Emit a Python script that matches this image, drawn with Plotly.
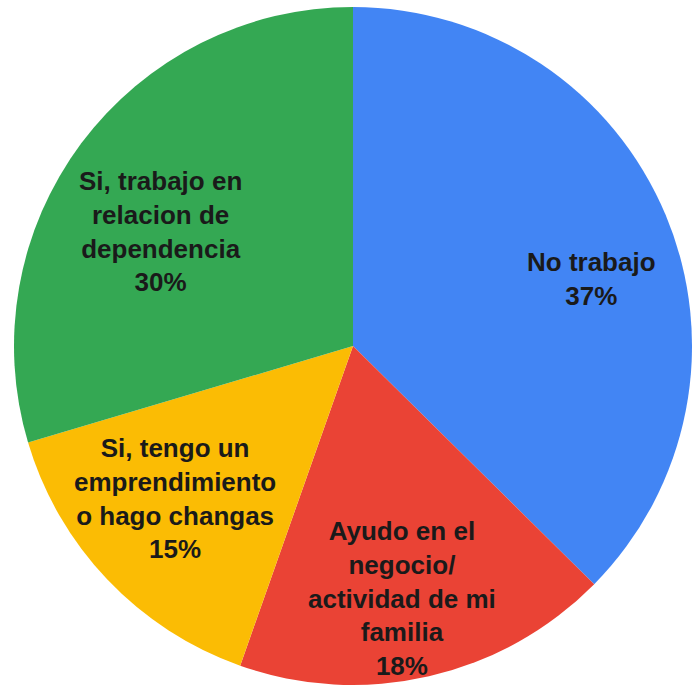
import math
import plotly.graph_objects as go

labels = ["No trabajo", "Ayudo en el<br>negocio/<br>actividad de mi<br>familia",
          "Si, tengo un<br>emprendimiento<br>o hago changas",
          "Si, trabajo en<br>relacion de<br>dependencia"]
values = [37.4, 18.0, 15.0, 29.6]
colors = ["#4285F4", "#EA4335", "#FBBC04", "#34A853"]

# label placement style (radius fraction, angular shift in degrees)
label_radius = [0.73, 0.76, 0.69, 0.66]
label_shift = [7.0, 2.0, 3.0, -6.0]

W = H = 692
dom_x = [14 / W, 1.0]
dom_y = [0.0, 1.0]

fig = go.Figure(go.Pie(
    labels=labels,
    values=values,
    sort=False,
    direction="clockwise",
    rotation=0,
    marker=dict(colors=colors, line=dict(width=0)),
    textinfo="none",
    domain=dict(x=dom_x, y=dom_y),
    showlegend=False,
    hoverinfo="label+percent",
))

# pie geometry in pixels (derived from the domain)
cx = (dom_x[0] + dom_x[1]) / 2 * W
cy = (1 - (dom_y[0] + dom_y[1]) / 2) * H
r = min((dom_x[1] - dom_x[0]) * W, (dom_y[1] - dom_y[0]) * H) / 2

total = sum(values)
cum = 0.0
annotations = []
for lab, v, rf, sh in zip(labels, values, label_radius, label_shift):
    mid = (cum + v / 2) / total * 360 + sh
    cum += v
    th = math.radians(mid)
    px = cx + rf * r * math.sin(th)
    py = cy - rf * r * math.cos(th)
    pct = round(v / total * 100)
    annotations.append(dict(
        x=px / W, y=1 - py / H, xref="paper", yref="paper",
        text=f"{lab}<br>{pct}%", showarrow=False,
        xanchor="center", yanchor="middle", align="center",
        font=dict(family="Liberation Sans, Arial, sans-serif", size=26,
                  color="#1a1a1a", weight="bold"),
    ))

fig.update_layout(
    width=W, height=H,
    margin=dict(l=0, r=0, t=0, b=0),
    paper_bgcolor="white",
    plot_bgcolor="white",
    annotations=annotations,
)

fig.write_html("out.html", config={"displayModeBar": False},
               post_script="document.body.style.margin='0';")
